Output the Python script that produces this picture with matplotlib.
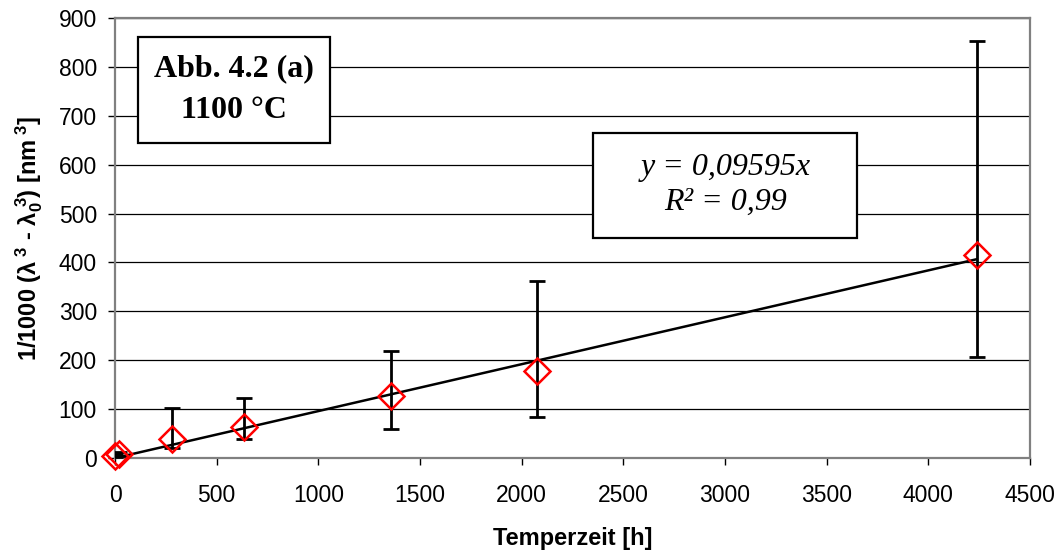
import matplotlib
matplotlib.use("Agg")
import matplotlib.pyplot as plt
from matplotlib.patches import Rectangle
import numpy as np

plt.rcParams['mathtext.fontset'] = 'custom'
plt.rcParams['mathtext.rm'] = 'Liberation Sans:bold'
plt.rcParams['mathtext.it'] = 'Liberation Sans:italic:bold'
plt.rcParams['mathtext.bf'] = 'Liberation Sans:bold'
plt.rcParams['mathtext.default'] = 'rm'

# Data
time_h = [1, 21, 279, 636, 1356, 2077, 4238]
value = [5, 8, 39, 64, 127, 178, 416]
err_low = [3, 4, 21, 39, 59, 83, 206]
err_high = [8, 12, 103, 122, 218, 363, 852]
slope = 0.09595
trend_x = [0, 4238]

xticks = [0, 500, 1000, 1500, 2000, 2500, 3000, 3500, 4000, 4500]
yticks = [0, 100, 200, 300, 400, 500, 600, 700, 800, 900]

fig = plt.figure(figsize=(10.61, 5.56), dpi=100)
ax = fig.add_axes([115/1061, 98/556, 915/1061, 440/556])

ax.set_xlim(0, 4500)
ax.set_ylim(0, 900)
ax.set_xticks(xticks)
ax.set_yticks(yticks)
ax.yaxis.grid(True, color='black', lw=0.9, zorder=0)
ax.set_axisbelow(True)

for s in ax.spines.values():
    s.set_color('#808080')
    s.set_linewidth(1.6)

ax.tick_params(axis='both', direction='out', length=5, width=1, color='black',
               labelsize=16.5)
ax.tick_params(axis='y', pad=8)
ax.tick_params(axis='x', pad=14)
for lbl in ax.get_xticklabels() + ax.get_yticklabels():
    lbl.set_fontfamily('Liberation Sans')

# error bars
v = np.array(value)
yerr = [v - np.array(err_low), np.array(err_high) - v]
ax.errorbar(time_h, value, yerr=yerr, fmt='none', ecolor='black', elinewidth=2,
            capsize=6, capthick=2, zorder=3)

# trend line
tx = np.array(trend_x)
ax.plot(tx, slope * tx, color='black', lw=1.8, zorder=4)

# markers
ax.plot(time_h, value, linestyle='none', marker='D', markersize=13,
        markerfacecolor='none', markeredgecolor='red', markeredgewidth=1.8,
        zorder=5, clip_on=False)

ax.set_xlabel('Temperzeit [h]', fontsize=17, fontweight='bold',
              fontfamily='Liberation Sans', labelpad=14)
ax.set_ylabel(r'1/1000 ($\lambda^{\ 3}$ - $\lambda_{0}^{\ 3}$) [nm$^{\ 3}$]', fontsize=17,
              fontweight='bold', fontfamily='Liberation Sans')
ax.yaxis.set_label_coords(-0.077, 0.498)

# Box 1
ax.add_patch(Rectangle((0.025, 0.716), 0.21, 0.241, transform=ax.transAxes,
                       facecolor='white', edgecolor='black', lw=1.6, zorder=6))
ax.text(0.130, 0.884, 'Abb. 4.2 (a)', transform=ax.transAxes, ha='center', va='center',
        fontsize=23, fontweight='bold', fontfamily='Liberation Serif', zorder=7)
ax.text(0.130, 0.790, '1100 °C', transform=ax.transAxes, ha='center', va='center',
        fontsize=23, fontweight='bold', fontfamily='Liberation Serif', zorder=7)

# Box 2
ax.add_patch(Rectangle((0.522, 0.50), 0.289, 0.239, transform=ax.transAxes,
                       facecolor='white', edgecolor='black', lw=1.6, zorder=6))
ax.text(0.667, 0.661, 'y = 0,09595x', transform=ax.transAxes, ha='center', va='center',
        fontsize=23, fontstyle='italic', fontfamily='Liberation Serif', zorder=7)
ax.text(0.667, 0.582, 'R² = 0,99', transform=ax.transAxes, ha='center', va='center',
        fontsize=23, fontstyle='italic', fontfamily='Liberation Serif', zorder=7)

fig.savefig('out.png', dpi=100)
